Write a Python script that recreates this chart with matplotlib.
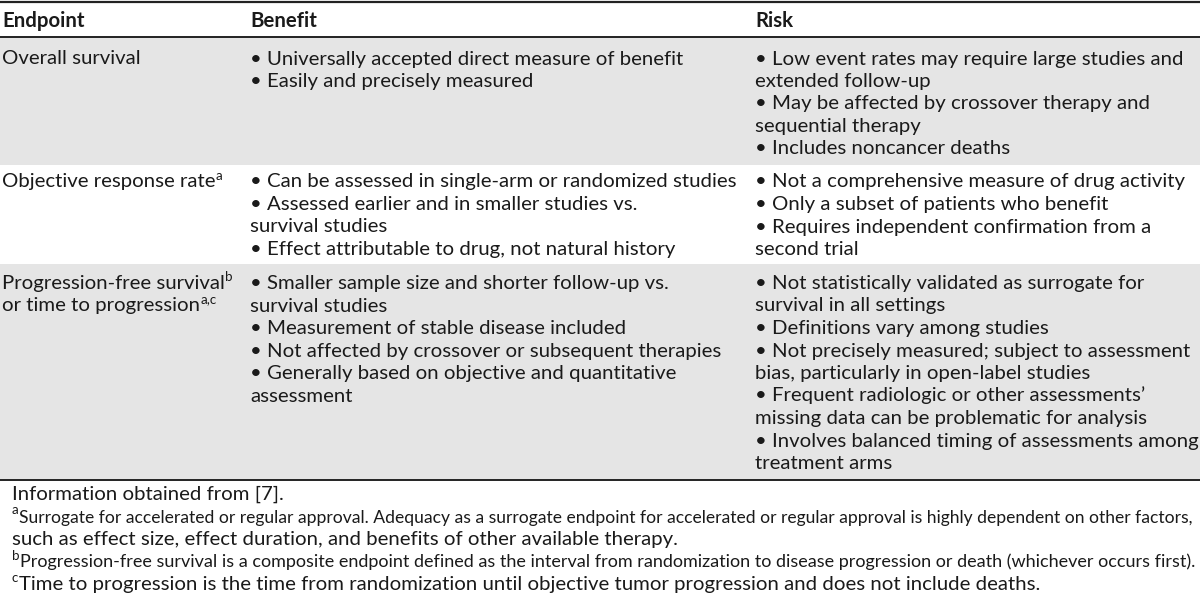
import matplotlib
matplotlib.use("Agg")
import matplotlib.pyplot as plt
from matplotlib.patches import Rectangle

FONT = ["Lato", "DejaVu Sans"]

headers = ["Endpoint", "Benefit", "Risk"]
endpoint_lines = [
    [("Overall survival", "")],
    [("Objective response rate", "a")],
    [("Progression-free survival", "b"), ("or time to progression", "a,c")],
]
benefit_lines = [
    ["• Universally accepted direct measure of benefit",
     "• Easily and precisely measured"],
    ["• Can be assessed in single-arm or randomized studies",
     "• Assessed earlier and in smaller studies vs.",
     "survival studies",
     "• Effect attributable to drug, not natural history"],
    ["• Smaller sample size and shorter follow-up vs.",
     "survival studies",
     "• Measurement of stable disease included",
     "• Not affected by crossover or subsequent therapies",
     "• Generally based on objective and quantitative",
     "assessment"],
]
risk_lines = [
    ["• Low event rates may require large studies and",
     "extended follow-up",
     "• May be affected by crossover therapy and",
     "sequential therapy",
     "• Includes noncancer deaths"],
    ["• Not a comprehensive measure of drug activity",
     "• Only a subset of patients who benefit",
     "• Requires independent confirmation from a",
     "second trial"],
    ["• Not statistically validated as surrogate for",
     "survival in all settings",
     "• Definitions vary among studies",
     "• Not precisely measured; subject to assessment",
     "bias, particularly in open-label studies",
     "• Frequent radiologic or other assessments\u2019",
     "missing data can be problematic for analysis",
     "• Involves balanced timing of assessments among",
     "treatment arms"],
]
footnotes = [
    ("", "Information obtained from [7]."),
    ("a", "Surrogate for accelerated or regular approval. Adequacy as a surrogate endpoint for accelerated or regular approval is highly dependent on other factors,"),
    ("", "such as effect size, effect duration, and benefits of other available therapy."),
    ("b", "Progression-free survival is a composite endpoint defined as the interval from randomization to disease progression or death (whichever occurs first)."),
    ("c", "Time to progression is the time from randomization until objective tumor progression and does not include deaths."),
]

# ---- layout / style ----
W, H = 1200, 594
col_x = [2, 250, 755]
row_bounds = [(37, 165), (165, 264), (264, 479)]
row_fill = ["#e5e5e5", "#ffffff", "#e5e5e5"]
row_first_baseline = [64.5, 187.5, 289]
line_gap = 22.5
header_baseline = 27
foot_x = 12
foot_baseline = 500
foot_gap = 22.5
TXT = "#1a1a1a"
LINE = "#222222"

fig = plt.figure(figsize=(W / 100, H / 100), dpi=100)
ax = fig.add_axes([0, 0, 1, 1])
ax.set_xlim(0, W)
ax.set_ylim(H, 0)
ax.axis("off")
renderer = fig.canvas.get_renderer()


def width_of(s, size, weight="normal"):
    t = ax.text(0, 0, s, fontsize=size, family=FONT, weight=weight)
    w = t.get_window_extent(renderer).width
    t.remove()
    return w


# font size fitted to the reference text width
FS = 10 * 433 / width_of(benefit_lines[0][0], 10)
SUP = FS * 0.66


def put(x, y, s, size=FS, weight="normal"):
    t = ax.text(x, y, s, fontsize=size, family=FONT, weight=weight,
                color=TXT, va="baseline", ha="left")
    return t


def put_sup_after(t, y, sup):
    bb = t.get_window_extent(renderer)
    x_end = bb.x1
    ax.text(x_end + 0.5, y - 8, sup, fontsize=SUP, family=FONT, color=TXT,
            va="baseline", ha="left")


# row backgrounds
for (y0, y1), c in zip(row_bounds, row_fill):
    ax.add_patch(Rectangle((0, y0), W, y1 - y0, facecolor=c, edgecolor="none", zorder=0))

# rules
ax.plot([0, W], [1.5, 1.5], color=LINE, lw=1.6, solid_capstyle="butt")
ax.plot([0, W], [37, 37], color=LINE, lw=1.4, solid_capstyle="butt")
ax.plot([0, W], [479.5, 479.5], color=LINE, lw=1.4, solid_capstyle="butt")

# header
for x, h in zip(col_x, headers):
    put(x, header_baseline, h, weight="bold")

# body
for r in range(3):
    yb = row_first_baseline[r]
    for i, (s, sup) in enumerate(endpoint_lines[r]):
        y = yb + i * line_gap
        t = put(col_x[0], y, s)
        if sup:
            put_sup_after(t, y, sup)
    for i, s in enumerate(benefit_lines[r]):
        put(col_x[1], yb + i * line_gap, s)
    for i, s in enumerate(risk_lines[r]):
        put(col_x[2], yb + i * line_gap, s)

# footnotes
for i, (sup, s) in enumerate(footnotes):
    y = foot_baseline + i * foot_gap
    x = foot_x
    if sup:
        st = ax.text(x, y - 8, sup, fontsize=SUP, family=FONT, color=TXT,
                     va="baseline", ha="left")
        x = st.get_window_extent(renderer).x1 + 0.3
    size = FS
    w = width_of(s, size)
    if x + w > 1197:
        size = size * (1197 - x) / w
    put(x, y, s, size=size)

fig.savefig("out.png", dpi=100)
